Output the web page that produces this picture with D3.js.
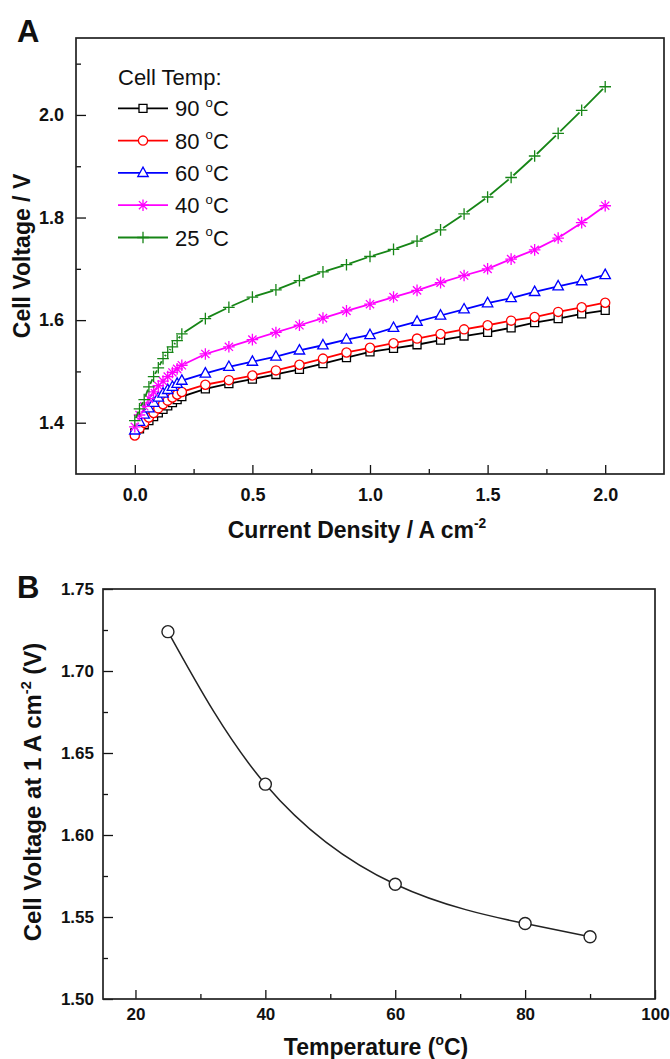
<!DOCTYPE html>
<html>
<head>
<meta charset="utf-8">
<script src="https://cdn.jsdelivr.net/npm/d3@7"></script>
<style>
  body { margin: 0; background: #fff; }
  svg text { font-family: "Liberation Sans", Arial, sans-serif; fill: #111; }
</style>
</head>
<body>
<div id="chart"></div>
<script>
// ---- Panel A data: cell voltage vs current density ----
const currentDensity = [0, 0.02, 0.04, 0.06, 0.08, 0.10, 0.12, 0.14, 0.16, 0.18, 0.20,
    0.3, 0.4, 0.5, 0.6, 0.7, 0.8, 0.9, 1.0, 1.1, 1.2, 1.3, 1.4, 1.5, 1.6, 1.7, 1.8, 1.9, 2.0];
const tempLabels = ['90', '80', '60', '40', '25'];
const volt90 = [1.380, 1.388, 1.396, 1.404, 1.412, 1.419, 1.426, 1.433, 1.439, 1.445, 1.451,
    1.466, 1.476, 1.485, 1.494, 1.504, 1.515, 1.527, 1.538, 1.545, 1.552, 1.561, 1.569, 1.576,
    1.585, 1.595, 1.603, 1.612, 1.619];
const volt80 = [1.375, 1.389, 1.400, 1.410, 1.419, 1.428, 1.436, 1.443, 1.449, 1.455, 1.460,
    1.474, 1.483, 1.492, 1.502, 1.513, 1.525, 1.537, 1.546, 1.555, 1.564, 1.573, 1.582, 1.590,
    1.599, 1.606, 1.616, 1.625, 1.634];
const volt60 = [1.385, 1.402, 1.416, 1.428, 1.439, 1.449, 1.457, 1.464, 1.470, 1.476, 1.482,
    1.496, 1.509, 1.519, 1.529, 1.541, 1.551, 1.562, 1.571, 1.585, 1.597, 1.609, 1.621, 1.633,
    1.643, 1.655, 1.666, 1.676, 1.688];
const volt40 = [1.392, 1.415, 1.432, 1.447, 1.460, 1.472, 1.481, 1.490, 1.498, 1.505, 1.512,
    1.534, 1.548, 1.562, 1.576, 1.590, 1.604, 1.618, 1.631, 1.645, 1.658, 1.673, 1.687, 1.700,
    1.719, 1.737, 1.760, 1.790, 1.823];
const volt25 = [1.404, 1.427, 1.445, 1.470, 1.490, 1.507, 1.525, 1.537, 1.548, 1.560, 1.573,
    1.603, 1.625, 1.645, 1.659, 1.677, 1.694, 1.708, 1.724, 1.738, 1.754, 1.776, 1.807, 1.840,
    1.878, 1.920, 1.964, 2.009, 2.055];
const xTicksA = [0, 0.5, 1.0, 1.5, 2.0];
const yTicksA = [1.4, 1.6, 1.8, 2.0];

// ---- Panel B data: cell voltage at 1 A cm-2 vs temperature ----
const cellTemps = [25, 40, 60, 80, 90];
const voltAt1A = [1.724, 1.631, 1.570, 1.546, 1.538];
const xTicksB = [20, 40, 60, 80, 100];
const yTicksB = [1.50, 1.55, 1.60, 1.65, 1.70, 1.75];

// marker shapes (drawn around 0,0)
const markers = {
    square: 'M-4,-4h8v8h-8Z',
    circle: 'M4.6,0A4.6,4.6 0 1,1 -4.6,0A4.6,4.6 0 1,1 4.6,0Z',
    triangle: 'M0,-5.8L5.2,3.6L-5.2,3.6Z',
    star: 'M0,-5.8V5.8M-5.8,0H5.8M-4.1,-4.1L4.1,4.1M-4.1,4.1L4.1,-4.1',
    plus: 'M0,-5.8V5.8M-5.8,0H5.8'
};
const seriesStyle = [
    { color: '#000000', marker: 'square', open: true },
    { color: '#ff0000', marker: 'circle', open: true },
    { color: '#0000ff', marker: 'triangle', open: true },
    { color: '#ff00ff', marker: 'star', open: false },
    { color: '#168516', marker: 'plus', open: false }
];
const seriesValues = [volt90, volt80, volt60, volt40, volt25];
const series = tempLabels.map((t, i) => ({
    label: t,
    style: seriesStyle[i],
    points: currentDensity.map((x, j) => ({ x: x, v: seriesValues[i][j] }))
}));

const svg = d3.select('#chart')
    .append('svg')
    .attr('width', 670)
    .attr('height', 1059);

// midpoints between major ticks -> minor ticks
function minorTicks(major) {
    return major.slice(1).map((d, i) => (d + major[i]) / 2);
}

function drawAxes(frame, x, y, opts) {
    const tickStyle = (g) => g.selectAll('line').attr('stroke', '#111').attr('stroke-width', 1.3);
    const labelStyle = (g) => g.selectAll('text')
        .style('font-size', opts.fontSize + 'px')
        .style('font-weight', 'bold')
        .attr('fill', '#111');

    svg.append('g')
        .attr('transform', `translate(0,${frame.bottom})`)
        .call(d3.axisBottom(x).tickValues(opts.xTicks).tickSize(-9)
            .tickPadding(opts.xPad).tickFormat(opts.xFormat))
        .call(g => g.select('.domain').remove())
        .call(tickStyle).call(labelStyle);
    svg.append('g')
        .attr('transform', `translate(0,${frame.bottom})`)
        .call(d3.axisBottom(x).tickValues(opts.xMinor).tickSize(-5).tickFormat(''))
        .call(g => g.select('.domain').remove())
        .call(tickStyle);

    svg.append('g')
        .attr('transform', `translate(${frame.left},0)`)
        .call(d3.axisLeft(y).tickValues(opts.yTicks).tickSize(-10)
            .tickPadding(opts.yPad).tickFormat(opts.yFormat))
        .call(g => g.select('.domain').remove())
        .call(tickStyle).call(labelStyle);
    svg.append('g')
        .attr('transform', `translate(${frame.left},0)`)
        .call(d3.axisLeft(y).tickValues(opts.yMinor).tickSize(-5).tickFormat(''))
        .call(g => g.select('.domain').remove())
        .call(tickStyle);
}

function drawFrame(frame) {
    svg.append('rect')
        .attr('x', frame.left)
        .attr('y', frame.top)
        .attr('width', frame.right - frame.left)
        .attr('height', frame.bottom - frame.top)
        .attr('fill', 'none')
        .attr('stroke', '#222')
        .attr('stroke-width', 1.7);
}

// text with a superscript part: parts = [[text, isSup], ...]
function richText(sel, parts, size) {
    let raised = false;
    parts.forEach(([t, sup]) => {
        const ts = sel.append('tspan').text(t);
        if (sup && !raised) {
            ts.attr('dy', -size * 0.42).style('font-size', (size * 0.6) + 'px');
            raised = true;
        } else if (!sup && raised) {
            ts.attr('dy', size * 0.42).style('font-size', size + 'px');
            raised = false;
        } else if (sup) {
            ts.style('font-size', (size * 0.6) + 'px');
        }
    });
    return sel;
}

// ================= Panel A =================
const frameA = { left: 76, right: 664, top: 38, bottom: 474 };
const xA = d3.scaleLinear().domain([-0.25, 2.25]).range([frameA.left, frameA.right]);
const yA = d3.scaleLinear().domain([1.3, 2.15]).range([frameA.bottom, frameA.top]);

const lineA = d3.line().x(d => xA(d.x)).y(d => yA(d.v));

series.forEach(s => {
    const g = svg.append('g').attr('class', 'series');
    g.append('path')
        .datum(s.points)
        .attr('d', lineA)
        .attr('fill', 'none')
        .attr('stroke', s.style.color)
        .attr('stroke-width', 1.8);
    // small gap in the line around stroke-only markers
    if (!s.style.open) {
        g.selectAll('.gap')
            .data(s.points)
            .join('circle')
            .attr('class', 'gap')
            .attr('cx', d => xA(d.x))
            .attr('cy', d => yA(d.v))
            .attr('r', 3)
            .attr('fill', '#fff');
    }
    g.selectAll('.mark')
        .data(s.points)
        .join('path')
        .attr('class', 'mark')
        .attr('transform', d => `translate(${xA(d.x)},${yA(d.v)})`)
        .attr('d', markers[s.style.marker])
        .attr('fill', s.style.open ? '#fff' : 'none')
        .attr('stroke', s.style.color)
        .attr('stroke-width', 1.3);
});

drawAxes(frameA, xA, yA, {
    xTicks: xTicksA, xMinor: minorTicks(xTicksA), xFormat: d3.format('.1f'), xPad: 14,
    yTicks: yTicksA, yMinor: [1.5, 1.7, 1.9, 2.1], yFormat: d3.format('.1f'), yPad: 12,
    fontSize: 18
});
drawFrame(frameA);

// legend
const legend = svg.append('g').attr('class', 'legend');
legend.append('text')
    .attr('x', 118)
    .attr('y', 85)
    .style('font-size', '22px')
    .text('Cell Temp:');
series.forEach((s, i) => {
    const cy = 108.3 + i * 32.3;
    legend.append('line')
        .attr('x1', 118).attr('x2', 168)
        .attr('y1', cy).attr('y2', cy)
        .attr('stroke', s.style.color)
        .attr('stroke-width', 1.8);
    legend.append('path')
        .attr('transform', `translate(143,${cy})`)
        .attr('d', markers[s.style.marker])
        .attr('fill', '#fff')
        .attr('stroke', s.style.color)
        .attr('stroke-width', 1.3);
    const t = legend.append('text')
        .attr('x', 175)
        .attr('y', cy + 8)
        .style('font-size', '22px');
    richText(t, [[s.label + ' ', false], ['o', true], ['C', false]], 22);
});

// axis titles A
richText(svg.append('text')
    .attr('x', 357).attr('y', 538)
    .attr('text-anchor', 'middle')
    .style('font-size', '23px').style('font-weight', 'bold'),
    [['Current Density / A cm', false], ['-2', true]], 23);
svg.append('text')
    .attr('transform', `translate(30,${(frameA.top + frameA.bottom) / 2}) rotate(-90)`)
    .attr('text-anchor', 'middle')
    .style('font-size', '23px').style('font-weight', 'bold')
    .text('Cell Voltage / V');
svg.append('text')
    .attr('x', 17).attr('y', 42)
    .style('font-size', '31px').style('font-weight', 'bold')
    .text('A');

// ================= Panel B =================
const frameB = { left: 103, right: 655, top: 589, bottom: 999 };
const xB = d3.scaleLinear().domain([15, 100]).range([frameB.left, frameB.right]);
const yB = d3.scaleLinear().domain([1.5, 1.75]).range([frameB.bottom, frameB.top]);
const pointsB = cellTemps.map((t, i) => ({ t: t, v: voltAt1A[i] }));

svg.append('path')
    .datum(pointsB)
    .attr('d', d3.line().curve(d3.curveNatural).x(d => xB(d.t)).y(d => yB(d.v)))
    .attr('fill', 'none')
    .attr('stroke', '#222')
    .attr('stroke-width', 1.5);
svg.selectAll('.ptB')
    .data(pointsB)
    .join('circle')
    .attr('class', 'ptB')
    .attr('cx', d => xB(d.t))
    .attr('cy', d => yB(d.v))
    .attr('r', 6)
    .attr('fill', '#fff')
    .attr('stroke', '#222')
    .attr('stroke-width', 1.4);

drawAxes(frameB, xB, yB, {
    xTicks: xTicksB, xMinor: minorTicks(xTicksB), xFormat: d3.format('d'), xPad: 9,
    yTicks: yTicksB, yMinor: minorTicks(yTicksB), yFormat: d3.format('.2f'), yPad: 9,
    fontSize: 17
});
drawFrame(frameB);

richText(svg.append('text')
    .attr('x', 376).attr('y', 1055)
    .attr('text-anchor', 'middle')
    .style('font-size', '23px').style('font-weight', 'bold'),
    [['Temperature (', false], ['o', true], ['C)', false]], 23);
richText(svg.append('text')
    .attr('transform', `translate(41,792) rotate(-90)`)
    .attr('text-anchor', 'middle')
    .style('font-size', '24px').style('font-weight', 'bold'),
    [['Cell Voltage at 1 A cm', false], ['-2', true], [' (V)', false]], 24);
svg.append('text')
    .attr('x', 17).attr('y', 598)
    .style('font-size', '31px').style('font-weight', 'bold')
    .text('B');
</script>
</body>
</html>
